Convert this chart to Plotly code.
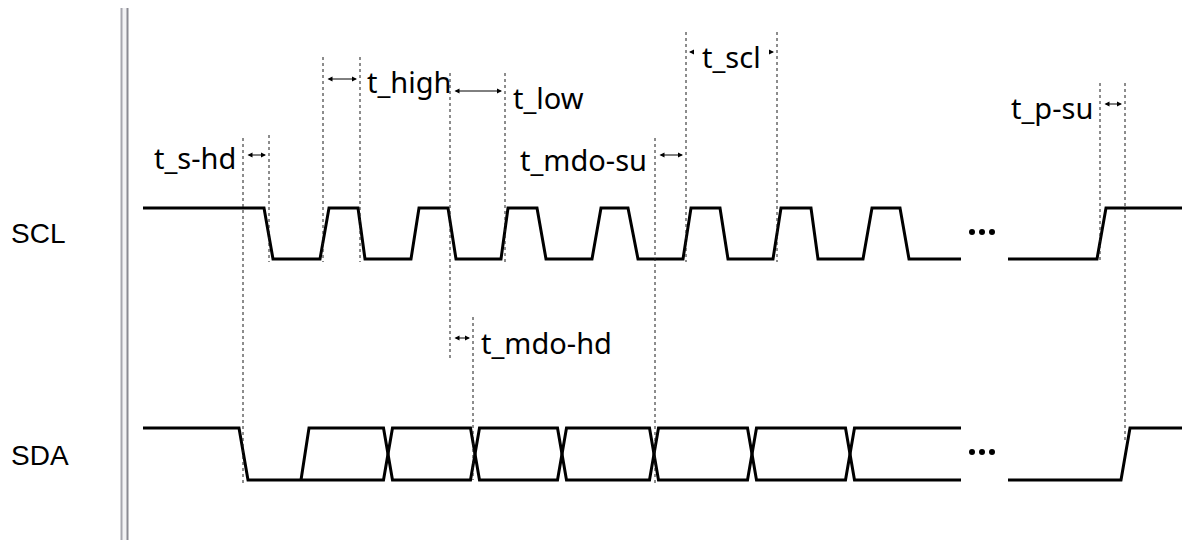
import plotly.graph_objects as go

# ---- waveform data (time positions in diagram units, levels 1=high 0=low) ----
SCL_T = [143, 264, 273, 320, 329, 358, 365, 411, 419, 448, 456, 501, 508, 537, 546,
         592, 601, 628, 638, 683, 691, 720, 728, 773, 781, 811, 818, 863, 872, 900, 909, 961]
SCL_L = [1, 1, 0, 0, 1, 1, 0, 0, 1, 1, 0, 0, 1, 1, 0,
         0, 1, 1, 0, 0, 1, 1, 0, 0, 1, 1, 0, 0, 1, 1, 0, 0]
SCL2_T = [1008, 1097, 1106, 1190]
SCL2_L = [0, 0, 1, 1]

SDA_START_T = [143, 239, 248]
SDA_START_L = [1, 1, 0]
SDA_RISE_T = [301, 309]
SDA_X = [388, 475, 562, 654, 752, 850]   # data-change crossings
SDA_XHALF = 4.5
SDA_END = 961
SDA2_T = [1008, 1121, 1130, 1190]
SDA2_L = [0, 0, 1, 1]

SCL_Y = {1: 208, 0: 259}
SDA_Y = {1: 428, 0: 480}

DOTS_T = [972, 982, 992]

# guide lines: (x, top, bottom)
GUIDES = [(243, 138, 484), (269, 135, 262), (323, 57, 262), (360, 57, 262),
          (450, 73, 358), (505, 73, 262), (655, 138, 484), (686, 32, 262),
          (777, 32, 262), (1100, 83, 262), (1125, 83, 440), (473, 317, 480)]

# timing arrows: (x_from, x_to, y)
ARROWS = [(246, 266, 155), (326, 357, 79), (453, 502, 91), (658, 683, 155),
          (1103, 1122, 104), (453, 470, 338)]

# labels: (text, x, y, anchor)
LABELS = [("t_s-hd", 238, 157, "right"), ("t_high", 365, 81, "left"),
          ("t_low", 511, 97, "left"), ("t_mdo-su", 649, 159, "right"),
          ("t_scl", 731, 56, "center"), ("t_p-su", 1095, 107, "right"),
          ("t_mdo-hd", 479, 342, "left")]
SIGNALS = [("SCL", 9, 233), ("SDA", 9, 455)]

# the page body adds an 8px offset; shift axis ranges so units match page pixels
OFF = 8

fig = go.Figure()
line = dict(color="black", width=3)

def add(xs, ys):
    fig.add_trace(go.Scatter(x=xs, y=ys, mode="lines", line=line,
                             hoverinfo="skip", showlegend=False))

add(SCL_T, [SCL_Y[v] for v in SCL_L])
add(SCL2_T, [SCL_Y[v] for v in SCL2_L])

# SDA path A: start level, fall, then alternates at crossings
ax_, ay_ = list(SDA_START_T), [SDA_Y[v] for v in SDA_START_L]
lvl = 0
for c in SDA_X:
    ax_ += [c - SDA_XHALF, c + SDA_XHALF]
    ay_ += [SDA_Y[lvl], SDA_Y[1 - lvl]]
    lvl = 1 - lvl
ax_.append(SDA_END); ay_.append(SDA_Y[lvl])
add(ax_, ay_)
# SDA path B: rising edge, then complementary rail
bx, by = list(SDA_RISE_T), [SDA_Y[0], SDA_Y[1]]
lvl = 1
for c in SDA_X:
    bx += [c - SDA_XHALF, c + SDA_XHALF]
    by += [SDA_Y[lvl], SDA_Y[1 - lvl]]
    lvl = 1 - lvl
bx.append(SDA_END); by.append(SDA_Y[lvl])
add(bx, by)
add(SDA2_T, [SDA_Y[v] for v in SDA2_L])

# ellipsis dots
for yy in (232, 452):
    fig.add_trace(go.Scatter(x=DOTS_T, y=[yy] * 3, mode="markers",
                             marker=dict(color="black", size=6),
                             hoverinfo="skip", showlegend=False))

shapes = []
# separator bar
shapes.append(dict(type="rect", x0=121, x1=128, y0=8, y1=560, xref="x", yref="y",
                   fillcolor="#f2f2f4", line=dict(width=0), layer="below"))
shapes.append(dict(type="line", x0=121.5, x1=121.5, y0=8, y1=560,
                   line=dict(color="#a6a6ae", width=2)))
shapes.append(dict(type="line", x0=127.5, x1=127.5, y0=8, y1=560,
                   line=dict(color="#8a8a92", width=2)))
for gx, gt, gb in GUIDES:
    shapes.append(dict(type="line", x0=gx, x1=gx, y0=gt, y1=gb,
                       line=dict(color="#1a1a1a", width=1, dash="dot")))

ann = []
for x0, x1, yy in ARROWS:
    ann.append(dict(x=x1, y=yy, ax=x0, ay=yy, xref="x", yref="y", axref="x", ayref="y",
                    text="", showarrow=True, arrowside="end+start", arrowhead=2,
                    arrowsize=1, arrowwidth=1, arrowcolor="black",
                    standoff=0, startstandoff=0))
# t_scl arrowheads peeking out beside the label
for hx, tx in ((689, 694), (774, 769)):
    ann.append(dict(x=hx, y=52, ax=tx, ay=52, xref="x", yref="y", axref="x", ayref="y",
                    text="", showarrow=True, arrowhead=2, arrowsize=1, arrowwidth=1,
                    arrowcolor="black", standoff=0))

for t, x, y, anc in LABELS:
    ann.append(dict(x=x, y=y, xref="x", yref="y", text=t, showarrow=False,
                    xanchor=anc, yanchor="middle",
                    font=dict(family="Noto Sans", size=29, color="black")))
for t, x, y in SIGNALS:
    ann.append(dict(x=x, y=y, xref="x", yref="y", text=t, showarrow=False,
                    xanchor="left", yanchor="middle",
                    font=dict(family="Liberation Sans", size=28, color="black")))

fig.update_layout(
    width=1190, height=540, margin=dict(l=0, r=0, t=0, b=0),
    paper_bgcolor="white", plot_bgcolor="white",
    xaxis=dict(range=[OFF, 1190 + OFF], visible=False, fixedrange=True),
    yaxis=dict(range=[540 + OFF, OFF], visible=False, fixedrange=True),
    shapes=shapes, annotations=ann,
)
fig.write_html("out.html")
